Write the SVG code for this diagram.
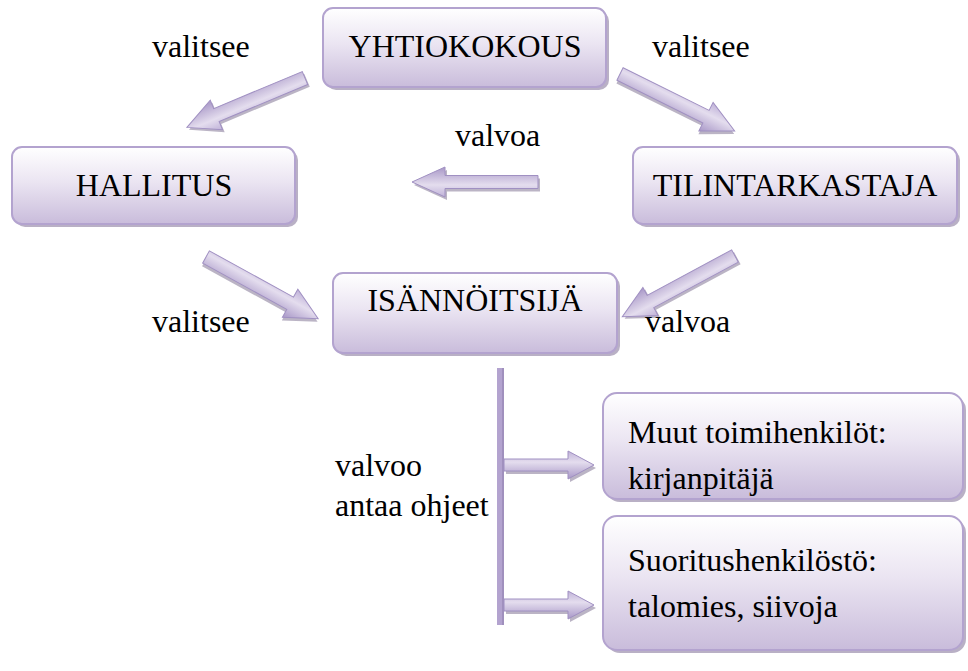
<svg xmlns="http://www.w3.org/2000/svg" xmlns:xlink="http://www.w3.org/1999/xlink" width="968" height="671" viewBox="0 0 968 671">
  <defs>
    <linearGradient id="boxFill" x1="0" y1="0" x2="0" y2="1">
      <stop offset="0" stop-color="#ffffff"/>
      <stop offset="0.45" stop-color="#ebe5f2"/>
      <stop offset="1" stop-color="#c9bcdb"/>
    </linearGradient>
    <linearGradient id="arrowFill" x1="0" y1="0" x2="0" y2="1">
      <stop offset="0" stop-color="#bfb1d8"/>
      <stop offset="0.4" stop-color="#e4ddee"/>
      <stop offset="1" stop-color="#a897c7"/>
    </linearGradient>
    <path id="arrowLong" d="M0,-7 L96,-7 L96,-16 L128,0 L96,16 L96,7 L0,7 Z"/>
    <path id="arrowMid" d="M0,-6.5 L93,-6.5 L93,-15 L126,0 L93,15 L93,6.5 L0,6.5 Z"/>
    <path id="arrowShort" d="M0,-6 L64,-6 L64,-14 L90,0 L64,14 L64,6 L0,6 Z"/>
  </defs>
  <style>
    .box { fill: url(#boxFill); stroke: #b3a3cf; stroke-width: 2; }
    .shadow { fill: #a196b2; opacity: 0.75; }
    .arrow { fill: url(#arrowFill); stroke: #a090c2; stroke-width: 1; }
    .ashadow { fill: #968ca6; opacity: 0.65; }
    text { font-family: 'Liberation Serif', 'Times New Roman', serif; font-size: 32px; fill: #000; }
    .c { text-anchor: middle; }
  </style>

  <g id="connectors">
    <g id="a-yk-hall" transform="translate(305,78) rotate(157.3)">
      <use xlink:href="#arrowLong" class="ashadow" transform="translate(-1,-3)"/>
      <use xlink:href="#arrowLong" class="arrow"/>
    </g>
    <g id="a-yk-tilin" transform="translate(620,74) rotate(26.4)">
      <use xlink:href="#arrowLong" class="ashadow" transform="translate(1,3)"/>
      <use xlink:href="#arrowLong" class="arrow"/>
    </g>
    <g id="a-tilin-hall" transform="translate(538,182) rotate(180)">
      <use xlink:href="#arrowMid" class="ashadow" transform="translate(-2,-3)"/>
      <use xlink:href="#arrowMid" class="arrow"/>
    </g>
    <g id="a-hall-isa" transform="translate(206,257) rotate(28.8)">
      <use xlink:href="#arrowLong" class="ashadow" transform="translate(1,3)"/>
      <use xlink:href="#arrowLong" class="arrow"/>
    </g>
    <g id="a-tilin-isa" transform="translate(735,256) rotate(151.7)">
      <use xlink:href="#arrowLong" class="ashadow" transform="translate(-1,-3)"/>
      <use xlink:href="#arrowLong" class="arrow"/>
    </g>
    <rect id="trunk" x="497" y="368" width="7" height="257" fill="#b3a3cf"/>
    <rect x="502" y="368" width="2" height="257" fill="#a090bd"/>
    <g id="a-isa-muut" transform="translate(504,465)">
      <use xlink:href="#arrowShort" class="ashadow" transform="translate(2,3)"/>
      <use xlink:href="#arrowShort" class="arrow"/>
    </g>
    <g id="a-isa-suor" transform="translate(504,605)">
      <use xlink:href="#arrowShort" class="ashadow" transform="translate(2,3)"/>
      <use xlink:href="#arrowShort" class="arrow"/>
    </g>
  </g>

  <g id="yhtiokokous">
    <rect x="326" y="11" width="283" height="79" rx="10" class="shadow"/>
    <rect x="323" y="8" width="283" height="79" rx="10" class="box"/>
    <text x="465" y="57" class="c">YHTIOKOKOUS</text>
  </g>
  <g id="hallitus">
    <rect x="15" y="150" width="283" height="77" rx="10" class="shadow"/>
    <rect x="12" y="147" width="283" height="77" rx="10" class="box"/>
    <text x="154" y="196" class="c">HALLITUS</text>
  </g>
  <g id="tilintarkastaja">
    <rect x="636" y="150" width="324" height="77" rx="10" class="shadow"/>
    <rect x="633" y="147" width="324" height="77" rx="10" class="box"/>
    <text x="795" y="196" class="c">TILINTARKASTAJA</text>
  </g>
  <g id="isannoitsija">
    <rect x="336" y="276" width="284" height="80" rx="10" class="shadow"/>
    <rect x="333" y="273" width="284" height="80" rx="10" class="box"/>
    <text x="475" y="311" class="c">ISÄNNÖITSIJÄ</text>
  </g>
  <g id="muut">
    <rect x="606" y="396" width="360" height="106" rx="14" class="shadow"/>
    <rect x="603" y="393" width="360" height="106" rx="14" class="box"/>
    <text x="628" y="443">Muut toimihenkilöt:</text>
    <text x="628" y="489">kirjanpitäjä</text>
  </g>
  <g id="suoritus">
    <rect x="606" y="519" width="360" height="134" rx="14" class="shadow"/>
    <rect x="603" y="516" width="360" height="134" rx="14" class="box"/>
    <text x="628" y="571">Suoritushenkilöstö:</text>
    <text x="628" y="617">talomies, siivoja</text>
  </g>

  <g id="labels">
    <text x="152" y="57">valitsee</text>
    <text x="652" y="57">valitsee</text>
    <text x="455" y="146">valvoa</text>
    <text x="152" y="332">valitsee</text>
    <text x="645" y="332">valvoa</text>
    <text x="335" y="476">valvoo</text>
    <text x="335" y="516">antaa ohjeet</text>
  </g>
</svg>
